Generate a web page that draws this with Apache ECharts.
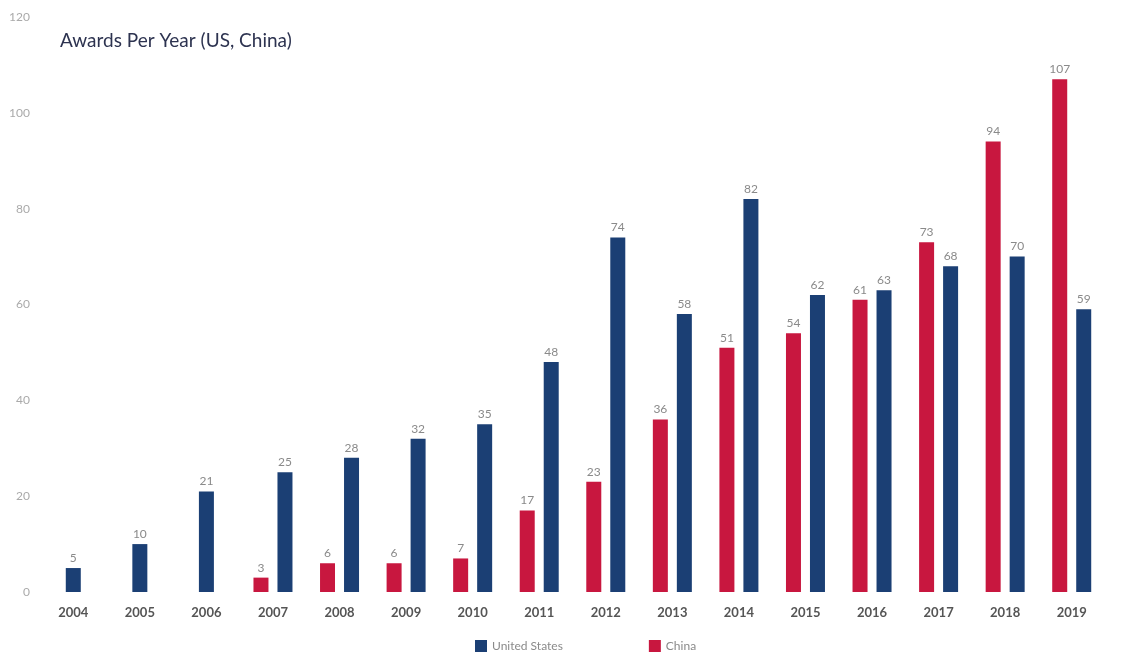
<!DOCTYPE html>
<html>
<head>
<meta charset="utf-8">
<script src="https://cdn.jsdelivr.net/npm/echarts@6/dist/echarts.min.js"></script>
<style>
html,body{margin:0;padding:0;background:#fff;}
#main{width:1121px;height:660px;}
</style>
</head>
<body>
<div id="main"></div>
<script>
const years = ['2004','2005','2006','2007','2008','2009','2010','2011','2012','2013','2014','2015','2016','2017','2018','2019'];
const usValues = [5,10,21,25,28,32,35,48,74,58,82,62,63,68,70,59];
const chinaValues = [null,null,null,3,6,6,7,17,23,36,51,54,61,73,94,107];
const yTicks = [0,20,40,60,80,100,120];

// years with only a US bar are drawn centred on the tick (separate layout axis)
const usPaired = usValues.map((v,i) => chinaValues[i] == null ? null : v);
const usSolo = usValues.map((v,i) => chinaValues[i] == null ? v : null);

const chart = echarts.init(document.getElementById('main'));
const labelStyle = {show:true, position:'top', color:'#8a8a8a', fontSize:12, fontFamily:'Lato', distance:4};
chart.setOption({
  animation:false,
  title:{text:'Awards Per Year (US, China)', left:55, top:26,
    textStyle:{color:'#2d3350', fontSize:19, fontWeight:'normal', fontFamily:'Lato'}},
  legend:{bottom:3, left:470, itemWidth:12, itemHeight:12, itemGap:86,
    icon:'rect', textStyle:{color:'#8a8a8a', fontSize:12, fontFamily:'Lato'},
    data:['United States','China']},
  grid:{left:40, right:16, top:17, bottom:68},
  xAxis:[{type:'category', data:years,
    axisLine:{show:false}, axisTick:{show:false},
    axisLabel:{color:'#555', fontSize:13, fontWeight:'bold', fontFamily:'Lato', margin:14}},
    {type:'category', data:years, show:false}],
  yAxis:{type:'value', min:yTicks[0], max:yTicks[yTicks.length-1], interval:20,
    splitLine:{show:false}, axisLine:{show:false}, axisTick:{show:false},
    axisLabel:{color:'#aaa', fontSize:12, fontFamily:'Lato', margin:10}},
  series:[
    {name:'China', type:'bar', data:chinaValues, barWidth:15, barGap:'60%',
      itemStyle:{color:'#c8173f'}, label:labelStyle},
    {name:'United States', type:'bar', data:usPaired, barWidth:15,
      itemStyle:{color:'#1b3f74'}, label:labelStyle},
    {name:'United States', type:'bar', xAxisIndex:1, data:usSolo, barWidth:15,
      itemStyle:{color:'#1b3f74'}, label:labelStyle}
  ]
});
</script>
</body>
</html>
